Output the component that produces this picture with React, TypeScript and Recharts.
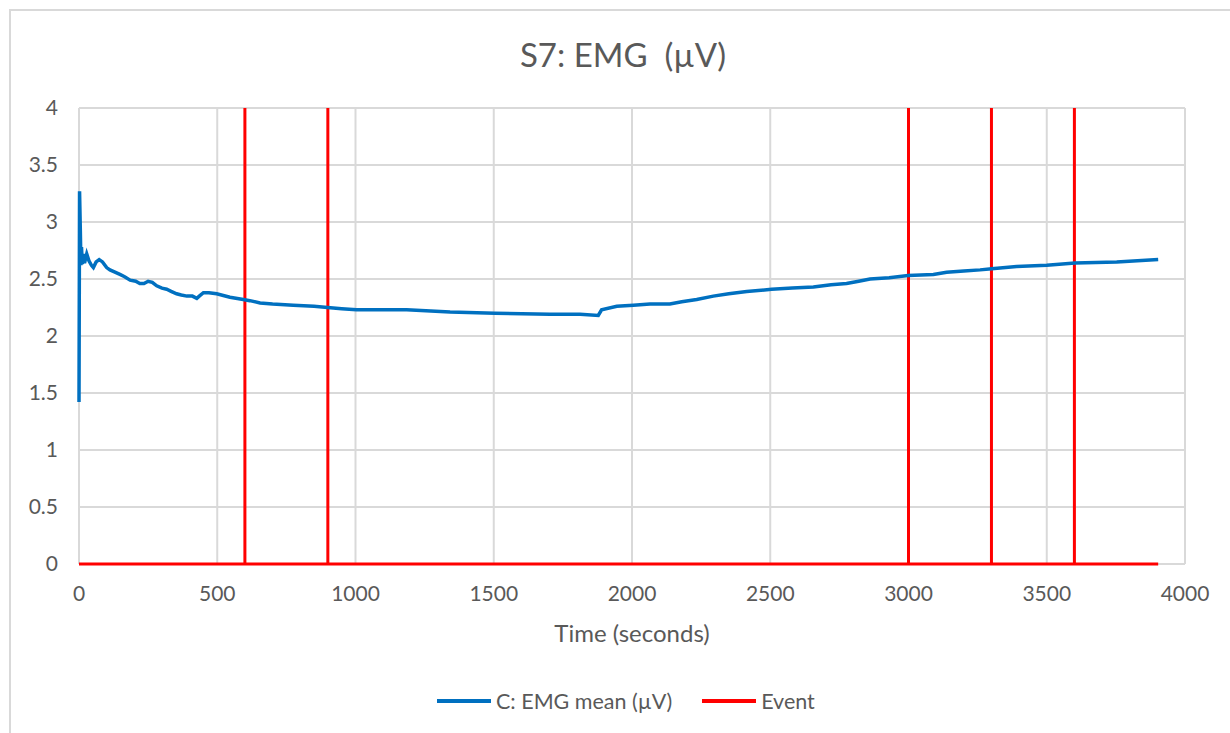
import { CartesianGrid, Line, LineChart, XAxis, YAxis } from "recharts";

const emgTime = [
  0, 2, 5, 7, 9, 12, 16, 20, 28, 36, 45, 52, 62, 73, 85, 100, 112, 130, 148, 165,
  185, 205, 220, 235, 250, 265, 281, 300, 317, 335, 353, 370, 390, 410, 426, 435,
  450, 470, 498, 546, 594, 618, 655, 700, 775, 850, 899, 950, 1004, 1100, 1185,
  1342, 1504, 1703, 1812, 1878, 1890, 1945, 2005, 2065, 2137, 2180, 2234, 2294,
  2350, 2415, 2505, 2580, 2656, 2720, 2776, 2820, 2861, 2930, 2999, 3090, 3138,
  3200, 3259, 3301, 3391, 3500, 3602, 3753, 3903,
];
const emgValue = [
  1.42, 3.27, 2.9, 2.62, 2.78, 2.63, 2.72, 2.64, 2.72, 2.66, 2.62, 2.6, 2.65, 2.67,
  2.65, 2.6, 2.58, 2.56, 2.54, 2.52, 2.49, 2.48, 2.46, 2.46, 2.48, 2.47, 2.44, 2.42,
  2.41, 2.39, 2.37, 2.36, 2.35, 2.35, 2.33, 2.35, 2.38, 2.38, 2.37, 2.34, 2.32,
  2.31, 2.29, 2.28, 2.27, 2.26, 2.25, 2.24, 2.23, 2.23, 2.23, 2.21, 2.2, 2.19,
  2.19, 2.18, 2.23, 2.26, 2.27, 2.28, 2.28, 2.3, 2.32, 2.35, 2.37, 2.39, 2.41,
  2.42, 2.43, 2.45, 2.46, 2.48, 2.5, 2.51, 2.53, 2.54, 2.56, 2.57, 2.58, 2.59,
  2.61, 2.62, 2.64, 2.65, 2.67,
];

const eventTime = [0, 600, 600, 600, 900, 900, 900, 3000, 3000, 3000, 3300, 3300, 3300, 3600, 3600, 3600, 3903];
const eventValue = [0, 0, 4, 0, 0, 4, 0, 0, 4, 0, 0, 4, 0, 0, 4, 0, 0];

const xTicks = [0, 500, 1000, 1500, 2000, 2500, 3000, 3500, 4000];
const yTicks = [0, 0.5, 1, 1.5, 2, 2.5, 3, 3.5, 4];

const emgData = emgTime.map((t, i) => ({ t, emg: emgValue[i] }));
const eventData = eventTime.map((t, i) => ({ t, event: eventValue[i] }));

const font = "Lato, 'Open Sans', sans-serif";
const textColor = "#595959";

export default function App() {
  return (
    <div
      style={{
        position: "absolute",
        left: 0,
        top: 0,
        width: 1230,
        height: 733,
        overflow: "hidden",
        background: "#fff",
        fontFamily: font,
      }}
    >
      <div
        style={{
          position: "absolute",
          left: 9,
          top: 9,
          width: 1221,
          height: 724,
          borderLeft: "2px solid #d9d9d9",
          borderTop: "2px solid #d9d9d9",
          boxSizing: "border-box",
        }}
      />
      <div
        style={{
          position: "absolute",
          top: 34,
          left: 0,
          width: 1246,
          textAlign: "center",
          fontSize: 33,
          color: textColor,
          whiteSpace: "pre",
        }}
      >
        {"S7: EMG  (µV)"}
      </div>
      <div style={{ position: "absolute", left: 0, top: 0 }}>
        <LineChart
          width={1230}
          height={733}
          margin={{ top: 108, right: 45, left: 9, bottom: 119 }}
        >
          <CartesianGrid stroke="#d9d9d9" strokeWidth={2} />
          <XAxis
            type="number"
            dataKey="t"
            domain={[0, 4000]}
            ticks={xTicks}
            height={50}
            axisLine={false}
            tickLine={false}
            tickSize={0}
            tickMargin={22}
            tick={{ fontSize: 21, fill: textColor, fontFamily: font }}
            allowDuplicatedCategory={false}
          />
          <YAxis
            type="number"
            domain={[0, 4]}
            ticks={yTicks}
            width={70}
            axisLine={false}
            tickLine={false}
            tickSize={0}
            tickMargin={21}
            tick={{ fontSize: 21, fill: textColor, fontFamily: font }}
          />
          <Line
            data={eventData}
            dataKey="event"
            type="linear"
            stroke="#ff0000"
            strokeWidth={3}
            dot={false}
            isAnimationActive={false}
          />
          <Line
            data={emgData}
            dataKey="emg"
            type="linear"
            stroke="#0070c0"
            strokeWidth={3.5}
            dot={false}
            isAnimationActive={false}
          />
        </LineChart>
      </div>
      <div
        style={{
          position: "absolute",
          top: 618,
          left: 0,
          width: 1264,
          textAlign: "center",
          fontSize: 24,
          color: textColor,
        }}
      >
        Time (seconds)
      </div>
      <div
        style={{
          position: "absolute",
          top: 688,
          left: 437,
          display: "flex",
          alignItems: "center",
          fontSize: 21.5,
          color: textColor,
          whiteSpace: "nowrap",
        }}
      >
        <span style={{ display: "inline-block", width: 54, height: 3.5, background: "#0070c0", marginRight: 5 }} />
        <span>C: EMG mean (µV)</span>
        <span style={{ display: "inline-block", width: 54, height: 3.5, background: "#ff0000", marginLeft: 30, marginRight: 5 }} />
        <span>Event</span>
      </div>
    </div>
  );
}
